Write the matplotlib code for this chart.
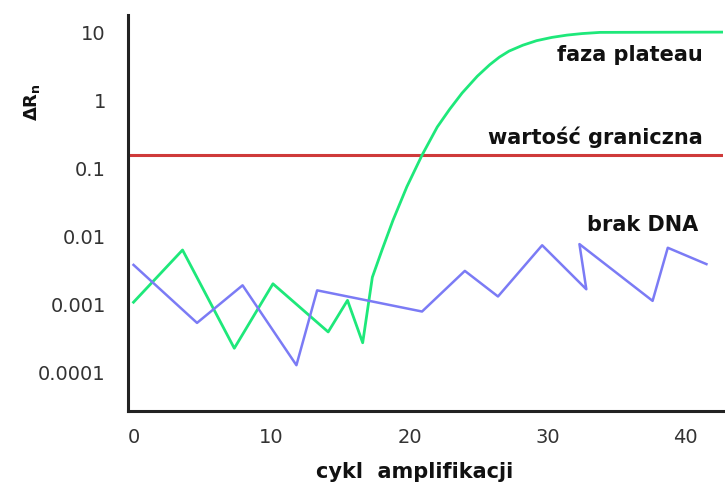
import numpy as np
import matplotlib
matplotlib.use("Agg")
import matplotlib.pyplot as plt

# brak DNA (niebieska)
blue_x = [0, 4.6, 7.9, 11.8, 13.3, 20.9, 24.0, 26.4, 29.6, 32.8, 32.3, 37.6, 38.7, 41.5]
blue_y = [0.0038, 0.00053, 0.0019, 0.000126, 0.0016, 0.00078, 0.0031, 0.0013,
          0.0074, 0.00166, 0.0077, 0.00112, 0.0068, 0.0039]

# probka z DNA (zielona)
green_x = [0, 3.55, 7.3, 10.1, 14.1, 15.5, 16.6, 17.3, 18.0, 18.8, 19.8, 20.9, 22.0,
           22.9, 23.8, 24.9, 25.8, 26.5, 27.2, 28.2, 29.2, 30.3, 31.4, 32.5, 33.8, 42.8]
green_y = [0.00107, 0.0063, 0.000224, 0.0020, 0.00039, 0.00114, 0.00027, 0.0025, 0.0063,
           0.0174, 0.054, 0.158, 0.41, 0.75, 1.3, 2.3, 3.4, 4.4, 5.4, 6.6, 7.7, 8.6,
           9.3, 9.8, 10.2, 10.3]

threshold = 0.158

yticks = [10, 1, 0.1, 0.01, 0.001, 0.0001]
ytick_labels = ["10", "1", "0.1", "0.01", "0.001", "0.0001"]
xticks = [0, 10, 20, 30, 40]

fig = plt.figure(figsize=(7.25, 4.82), dpi=100)
ax = fig.add_axes([128/725, 1-411/482, (723-128)/725, (411-15)/482])

ax.plot(green_x, green_y, color="#1ee87a", lw=2.0, zorder=3, solid_joinstyle="round")
ax.plot(blue_x, blue_y, color="#7b7bf5", lw=1.8, zorder=3)
ax.axhline(threshold, color="#cf3a3a", lw=2.2, zorder=2)

ax.set_yscale("log")
ax.set_xlim(-0.4, 42.7)
ax.set_ylim(10**-4.575, 10**1.265)
ax.set_yticks(yticks)
ax.set_yticklabels(ytick_labels)
ax.set_xticks(xticks)
ax.minorticks_off()
ax.tick_params(axis="y", length=0, pad=16, labelsize=14, labelcolor="#333333")
ax.tick_params(axis="x", length=0, pad=12, labelsize=14, labelcolor="#333333")

for s in ["top", "right"]:
    ax.spines[s].set_visible(False)
for s in ["left", "bottom"]:
    ax.spines[s].set_linewidth(2.2)
    ax.spines[s].set_color("#222222")

ax.text(41.2, 4.73, "faza plateau", ha="right", va="center", fontsize=15, fontweight="bold", color="#111111")
ax.text(41.2, 0.292, "wartość graniczna", ha="right", va="center", fontsize=15, fontweight="bold", color="#111111")
ax.text(40.9, 0.0148, "brak DNA", ha="right", va="center", fontsize=15, fontweight="bold", color="#111111")

fig.text(415/725, 1-472/482, "cykl  amplifikacji", ha="center", va="center",
         fontsize=15, fontweight="bold", color="#111111")
fig.text(32/725, 1-102/482, r"$\mathbf{\Delta R_n}$", ha="center", va="center",
         rotation=90, fontsize=13, color="#111111")

fig.savefig("out.png", dpi=100)
